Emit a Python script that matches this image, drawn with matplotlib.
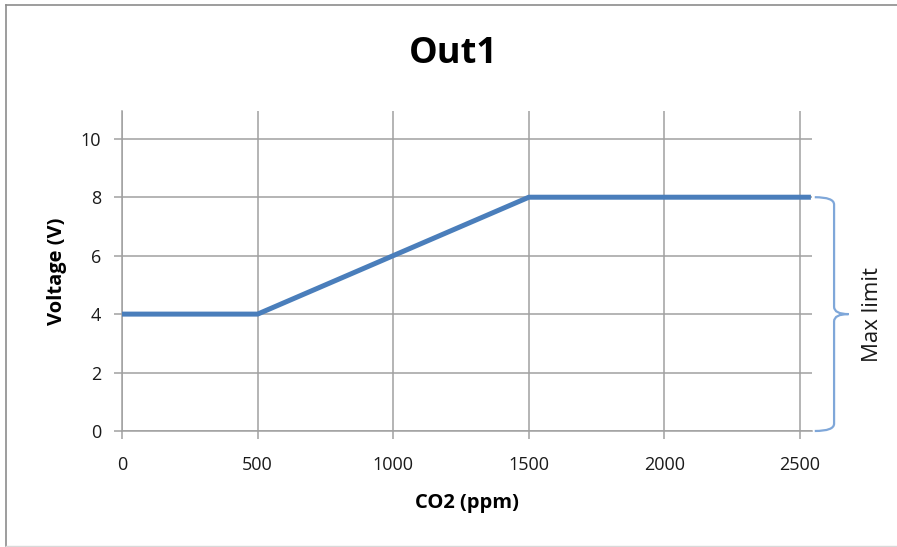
import matplotlib
matplotlib.use("Agg")
import matplotlib.pyplot as plt
from matplotlib.path import Path
from matplotlib.patches import PathPatch
from matplotlib.lines import Line2D

co2_ppm = [0, 500, 1500, 2540]
voltage = [4, 4, 8, 8]
x_ticks = [0, 500, 1000, 1500, 2000, 2500]
y_ticks = [0, 2, 4, 6, 8, 10]
title = "Out1"
x_label = "CO2 (ppm)"
y_label = "Voltage (V)"
brace_label = "Max limit"
brace_range = (0, 8)

plt.rcParams['font.family'] = ['Open Sans', 'DejaVu Sans']

W, H = 897, 547
fig = plt.figure(figsize=(W / 100, H / 100), dpi=100)
fig.patch.set_facecolor("white")

# chart-area border
fig.add_artist(Line2D([6 / W, 6 / W], [1 - 546 / H, 1 - 5 / H], color="#8c8c8c", lw=1.2))
fig.add_artist(Line2D([6 / W, 1], [1 - 5 / H, 1 - 5 / H], color="#8c8c8c", lw=1.2))
fig.add_artist(Line2D([6 / W, 1], [1 - 546 / H, 1 - 546 / H], color="#d9d9d9", lw=1.0))

left, right, bottom, top = 122 / W, 812 / W, 1 - 431 / H, 1 - 111 / H
ax = fig.add_axes([left, bottom, right - left, top - bottom])

grid_c = "#a0a0a0"
ax.plot(co2_ppm, voltage, color="#4a7ebb", lw=3.6, solid_capstyle="butt", zorder=3, clip_on=False)
ax.set_xlim(0, 2544)
ax.set_ylim(0, 10.95)
ax.set_xticks(x_ticks)
ax.set_yticks(y_ticks)
ax.grid(True, color=grid_c, lw=1.1)
ax.set_axisbelow(True)
for s in ["top", "right"]:
    ax.spines[s].set_visible(False)
for s in ["left", "bottom"]:
    ax.spines[s].set_color(grid_c)
    ax.spines[s].set_linewidth(1.1)
ax.tick_params(axis="both", direction="out", length=6, width=1.1, color=grid_c,
               labelsize=13, labelcolor="#1a1a1a")
ax.tick_params(axis="x", pad=12)
ax.tick_params(axis="y", pad=9)

ax.set_xlabel(x_label, fontsize=14.5, fontweight="bold", labelpad=14)
ax.set_ylabel(y_label, fontsize=14.5, fontweight="bold", labelpad=10)
fig.text(0.505, 1 - 54 / H, title, ha="center", va="center", fontsize=26, fontweight="bold")

# brace on the right
tr = ax.get_yaxis_transform()  # x in axes fraction, y in data
y0, y1 = brace_range
ym = (y0 + y1) / 2
xa, xb, xt = 1.004, 1.032, 1.053
r = 0.25
verts = [
    (xa, y1), (xb, y1), (xb, y1 - r),
    (xb, ym + r), (xb, ym), (xt, ym),
    (xb, ym), (xb, ym - r),
    (xb, y0 + r), (xb, y0), (xa, y0),
]
codes = [Path.MOVETO, Path.CURVE3, Path.CURVE3,
         Path.LINETO, Path.CURVE3, Path.CURVE3,
         Path.CURVE3, Path.CURVE3,
         Path.LINETO, Path.CURVE3, Path.CURVE3]
ax.add_patch(PathPatch(Path(verts, codes), transform=tr, fill=False,
                       edgecolor="#7fa7d9", lw=1.6, clip_on=False))
ax.text(1.088, ym, brace_label, transform=tr, rotation=90, ha="center", va="center",
        fontsize=16, color="#1a1a1a")

fig.savefig("out.png", dpi=100, facecolor="white")
